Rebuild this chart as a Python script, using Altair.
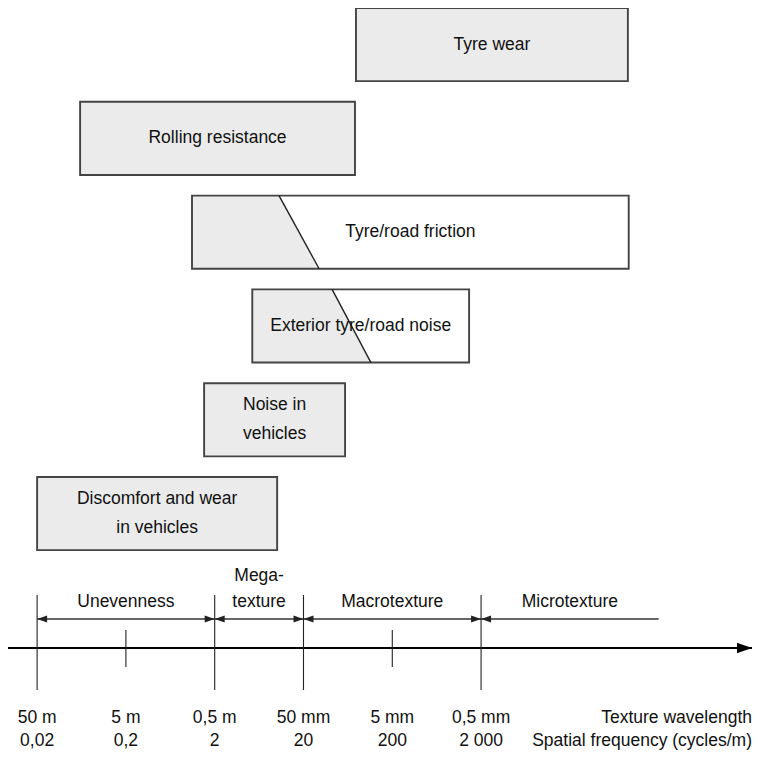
import math
import altair as alt
import pandas as pd

# ---------------- data (x = spatial frequency, cycles/m, log scale) ----------------
x_domain = [0.0094, 2.25e6]

box_labels = ["Tyre wear", "Rolling resistance", "Tyre/road friction",
              "Exterior tyre/road noise", "Noise in\nvehicles",
              "Discomfort and wear\nin vehicles"]
box_from = [78, 0.061, 1.11, 5.3, 1.52, 0.02]
box_to = [90000, 76, 92000, 1466, 58.8, 10.1]
box_shaded = [True, True, False, False, True, True]

split_labels = ["Tyre/road friction", "Exterior tyre/road noise"]
split_from = [1.11, 5.3]
split_top = [10.6, 42]
split_bottom = [30, 115]

range_labels = ["Unevenness", "Mega-\ntexture", "Macrotexture", "Microtexture"]
range_from = [0.02, 2, 20, 2000]
range_to = [2, 20, 2000, 200000]
range_right_head = [True, True, True, False]

tick_freq = [0.02, 0.2, 2, 20, 200, 2000]
tick_long = [True, False, True, True, False, True]
wavelength_labels = ["50 m", "5 m", "0,5 m", "50 mm", "5 mm", "0,5 mm"]
frequency_labels = ["0,02", "0,2", "2", "20", "200", "2 000"]
axis_titles = ["Texture wavelength", "Spatial frequency (cycles/m)"]

# ---------------- layout constants (row units, 1 row = 93.8 px) ----------------
PX = 93.8
BOX_H = 0.78
Y_MAX = 742 / PX
Y_BRACKET = 6.514
Y_BRACKET_LABEL = 594 / PX
Y_AXIS = 6.823
LONG_TICK = (6.258, 7.271)
SHORT_TICK = (6.631, 7.026)
Y_ROW1 = 710 / PX
Y_ROW2 = 733 / PX

FONT = "Liberation Sans, Arial, sans-serif"
FS = 17.5
BOX_LH = 29
BR_LH = 26
SHADE = "#ebebeb"
EDGE = "#444444"
INK = "#111111"

xs = alt.Scale(type="log", domain=x_domain)
ys = alt.Scale(domain=[0, Y_MAX], reverse=True)


def X(f):
    return alt.X(f, type="quantitative", scale=xs, axis=None)


def Y(f):
    return alt.Y(f, type="quantitative", scale=ys, axis=None)


def nlines(s):
    return s.count("\n") + 1


boxes = pd.DataFrame({
    "label": box_labels, "x1": box_from, "x2": box_to,
    "shaded": box_shaded,
})
boxes["row"] = range(len(boxes))
boxes["y1"] = boxes["row"]
boxes["y2"] = boxes["row"] + BOX_H
boxes["ym"] = [r + BOX_H / 2 - (nlines(l) - 1) * BOX_LH / PX / 2
               for r, l in zip(boxes["row"], box_labels)]
boxes["xm"] = [math.sqrt(a * b) for a, b in zip(box_from, box_to)]
boxes["fill"] = [SHADE if s else "white" for s in box_shaded]

rect_fill = alt.Chart(boxes).mark_rect(strokeWidth=0).encode(
    x=X("x1"), x2="x2", y=Y("y1"), y2="y2",
    fill=alt.Fill("fill:N", scale=None))

row_of = {l: i for i, l in enumerate(box_labels)}
area_rows = []
for lab, xf, xt, xb in zip(split_labels, split_from, split_top, split_bottom):
    r = row_of[lab]
    area_rows.append({"box": lab, "y": r, "x": xt, "xl": xf})
    area_rows.append({"box": lab, "y": r + BOX_H, "x": xb, "xl": xf})
areas = pd.DataFrame(area_rows)
shade_area = alt.Chart(areas).mark_area(orient="horizontal", color=SHADE).encode(
    y=Y("y"), x=X("x"), x2="xl", detail="box:N")

diag = pd.DataFrame({
    "xa": split_top, "xb": split_bottom,
    "ya": [row_of[l] for l in split_labels],
})
diag["yb"] = diag["ya"] + BOX_H
diag_rule = alt.Chart(diag).mark_rule(color="#222", strokeWidth=1.4).encode(
    x=X("xa"), x2="xb", y=Y("ya"), y2="yb")

rect_edge = alt.Chart(boxes).mark_rect(fillOpacity=0, stroke=EDGE, strokeWidth=1.9).encode(
    x=X("x1"), x2="x2", y=Y("y1"), y2="y2")

box_text = alt.Chart(boxes).mark_text(
    font=FONT, fontSize=FS, color=INK, baseline="middle", align="center",
    lineBreak="\n", lineHeight=BOX_LH).encode(
    x=X("xm"), y=Y("ym"), text="label:N")

# ---------------- brackets ----------------
rng = pd.DataFrame({"label": range_labels, "x1": range_from, "x2": range_to,
                    "rh": range_right_head})
rng["y"] = Y_BRACKET
rng["yl"] = [Y_BRACKET_LABEL - (nlines(l) - 1) * BR_LH / PX for l in range_labels]
rng["xm"] = [math.sqrt(a * b) for a, b in zip(range_from, range_to)]

br_line = alt.Chart(rng).mark_rule(color="#333", strokeWidth=1.5).encode(
    x=X("x1"), x2="x2", y=Y("y"))
LEFT_HEAD = "M0,0L1,-0.35L1,0.35Z"
RIGHT_HEAD = "M0,0L-1,-0.35L-1,0.35Z"
br_left = alt.Chart(rng).mark_point(shape=LEFT_HEAD, filled=True, size=400,
                                     color="#222", opacity=1).encode(
    x=X("x1"), y=Y("y"))
br_right = alt.Chart(rng).transform_filter("datum.rh").mark_point(
    shape=RIGHT_HEAD, filled=True, size=400, color="#222", opacity=1).encode(
    x=X("x2"), y=Y("y"))
br_text = alt.Chart(rng).mark_text(
    font=FONT, fontSize=FS, color=INK, baseline="middle", align="center",
    lineBreak="\n", lineHeight=BR_LH).encode(
    x=X("xm"), y=Y("yl"), text="label:N")

# ---------------- axis ----------------
ax = pd.DataFrame({"x1": [x_domain[0]], "x2": [x_domain[1]], "y": [Y_AXIS]})
ax_line = alt.Chart(ax).mark_rule(color="#000", strokeWidth=2.2).encode(
    x=X("x1"), x2="x2", y=Y("y"))
ax_head = alt.Chart(ax).mark_point(shape=RIGHT_HEAD, filled=True, size=900,
                                    color="#000", opacity=1).encode(
    x=X("x2"), y=Y("y"))

ticks = pd.DataFrame({"f": tick_freq, "long": tick_long,
                      "w": wavelength_labels, "s": frequency_labels})
ticks["y1"] = [LONG_TICK[0] if l else SHORT_TICK[0] for l in tick_long]
ticks["y2"] = [LONG_TICK[1] if l else SHORT_TICK[1] for l in tick_long]
ticks["r1"] = Y_ROW1
ticks["r2"] = Y_ROW2
tick_rule = alt.Chart(ticks).mark_rule(color="#222", strokeWidth=1.1).encode(
    x=X("f"), y=Y("y1"), y2="y2")
wl_text = alt.Chart(ticks).mark_text(font=FONT, fontSize=FS, color=INK,
                                     baseline="middle").encode(
    x=X("f"), y=Y("r1"), text="w:N")
sf_text = alt.Chart(ticks).mark_text(font=FONT, fontSize=FS, color=INK,
                                     baseline="middle").encode(
    x=X("f"), y=Y("r2"), text="s:N")

titles = pd.DataFrame({"t": axis_titles, "y": [Y_ROW1, Y_ROW2],
                       "x": [x_domain[1]] * 2})
title_text = alt.Chart(titles).mark_text(font=FONT, fontSize=FS, color=INK,
                                         baseline="middle", align="right").encode(
    x=X("x"), y=Y("y"), text="t:N")

chart = alt.layer(
    rect_fill, shade_area, rect_edge, diag_rule, box_text,
    br_line, br_left, br_right, br_text,
    ax_line, ax_head, tick_rule, wl_text, sf_text, title_text,
).properties(width=744, height=742, padding=0, autosize="none",
             background="white").configure_view(stroke=None)

chart.save("out.html", embed_options={"renderer": "svg", "actions": False})
